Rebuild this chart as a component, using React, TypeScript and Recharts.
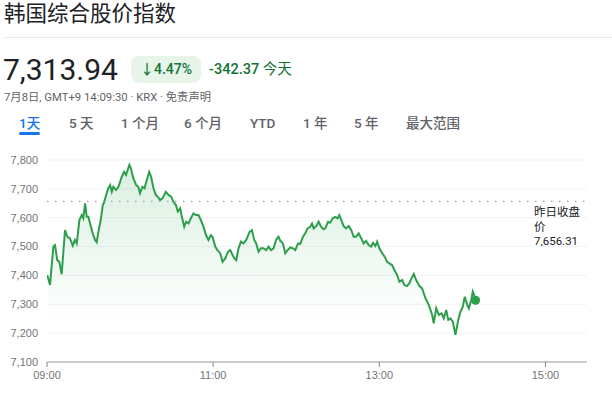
import React from "react";
import {
  ComposedChart,
  Area,
  XAxis,
  YAxis,
  CartesianGrid,
  ReferenceLine,
  ReferenceDot,
} from "recharts";

// minutes since 09:00
const times: number[] = [
  0.2, 2.2, 4.6, 5.8, 7.4, 8.9, 10.6, 13.0, 14.7, 16.6, 18.6, 20.2, 21.5, 23.4, 25.1, 26.2, 27.5, 28.7, 29.9, 31.1,
  33.0, 34.7, 35.9, 37.1, 38.8, 40.3, 41.4, 42.7, 44.3, 45.6, 46.8, 47.9, 49.9, 51.6, 54.0, 55.7, 57.1, 59.5, 60.5,
  62.4, 64.4, 66.0, 67.2, 68.9, 70.4, 72.1, 73.8, 75.2, 76.9, 78.6, 80.0, 81.7, 83.4, 85.8, 87.7, 89.7, 91.3, 93.1,
  94.5, 96.2, 97.4, 99.1, 100.5, 102.2, 103.9, 105.8, 107.5, 109.4, 111.1, 113.0, 114.8, 116.6, 118.4, 119.8, 121.5,
  123.1, 125.1, 126.8, 128.7, 130.7, 132.3, 134.0, 135.4, 136.7, 138.3, 140.1, 141.9, 143.9, 146.3, 148.0, 149.7,
  151.1, 152.8, 154.5, 156.4, 158.4, 160.0, 161.8, 163.6, 165.4, 167.2, 168.5, 170.4, 172.1, 173.8, 175.7, 177.7,
  179.3, 181.3, 182.9, 184.9, 186.5, 188.2, 190.2, 191.4, 192.6, 194.5, 196.2, 197.9, 199.8, 201.0, 203.0, 204.6,
  206.3, 208.2, 209.9, 211.1, 212.6, 214.2, 216.0, 217.9, 219.8, 221.5, 223.2, 225.1, 227.0, 228.7, 230.4, 232.3,
  234.1, 235.5, 237.2, 238.4, 240.1, 242.0, 243.9, 245.6, 247.3, 249.2, 250.9, 252.9, 254.5, 256.5, 258.1, 260.1,
  261.7, 263.2, 264.9, 266.6, 269.0, 270.9, 273.3, 275.7, 278.2, 279.3, 281.1, 283.0, 284.9, 286.6, 288.3, 289.8,
  291.4, 293.1, 295.0, 297.0, 298.6, 300.3, 301.7, 303.5, 304.7, 306.4, 307.5, 308.5, 309.5,
];

const values: number[] = [
  7401, 7367, 7500, 7505, 7453, 7447, 7404, 7557, 7534, 7528, 7503, 7523, 7511, 7592, 7609, 7598, 7650, 7603, 7603, 7580,
  7546, 7523, 7515, 7551, 7592, 7644, 7655, 7679, 7702, 7713, 7690, 7707, 7696, 7707, 7742, 7759, 7748, 7783, 7773,
  7736, 7713, 7707, 7685, 7707, 7702, 7731, 7759, 7742, 7702, 7679, 7673, 7661, 7667, 7690, 7679, 7673, 7655, 7644,
  7621, 7632, 7603, 7569, 7586, 7580, 7598, 7615, 7609, 7609, 7592, 7569, 7540, 7523, 7540, 7531, 7500,
  7488, 7477, 7447, 7459, 7482, 7488, 7471, 7459, 7453, 7494, 7517, 7511, 7523, 7551, 7557, 7523,
  7511, 7482, 7494, 7494, 7488, 7500, 7488, 7494, 7523, 7534, 7520, 7511, 7477, 7488, 7497, 7494,
  7488, 7511, 7509, 7534, 7546, 7563, 7569, 7580, 7563, 7571, 7586, 7569, 7560, 7563, 7586, 7583,
  7598, 7603, 7598, 7609, 7592, 7571, 7563, 7571, 7557, 7534, 7534, 7546, 7528, 7511, 7520, 7505,
  7500, 7513, 7502, 7517, 7494, 7477, 7465, 7447, 7442, 7436, 7419, 7401, 7378, 7384, 7367, 7363,
  7373, 7390, 7405, 7384, 7363, 7355, 7321, 7298, 7263, 7234, 7286, 7263, 7269, 7251, 7280, 7246,
  7251, 7240, 7194, 7246, 7274, 7292, 7326, 7298, 7286, 7315, 7344, 7332, 7313.94,
];

const yTicks: number[] = [7100, 7200, 7300, 7400, 7500, 7600, 7700, 7800];
const xTickMinutes: number[] = [0, 120, 240, 360];
const xTickLabels: string[] = ["09:00", "11:00", "13:00", "15:00"];
const prevClose = 7656.31;
const tabs: string[] = ["1天", "5 天", "1 个月", "6 个月", "YTD", "1 年", "5 年", "最大范围"];
const tabX: number[] = [19, 69, 121, 184, 250, 303, 354, 406];

const data = times.map((t, i) => ({ t, v: values[i] }));
const last = data[data.length - 1];

const GREEN = "#2d9f4c";
const TEXT_GREEN = "#137333";
const FONT = 'Roboto, "Noto Sans CJK SC", sans-serif';
const AXIS_FONT = '"Liberation Sans", Arial, "Noto Sans CJK SC", sans-serif';

export default function App() {
  return (
    <div
      style={{
        position: "absolute",
        left: 0,
        top: 0,
        width: 612,
        height: 394,
        background: "#fff",
        fontFamily: FONT,
        color: "#202124",
        overflow: "hidden",
      }}
    >
      <div style={{ position: "absolute", left: 4, top: 1, fontSize: 21.5, lineHeight: "26px", color: "#202124" }}>
        韩国综合股价指数
      </div>
      <div style={{ position: "absolute", left: 4, top: 37, width: 608, height: 1, background: "#e8eaed" }} />
      <div style={{ position: "absolute", left: 3, top: 52, fontSize: 30, lineHeight: "36px", color: "#202124" }}>
        7,313.94
      </div>
      <div
        style={{
          position: "absolute",
          left: 131,
          top: 56,
          width: 70,
          height: 27,
          borderRadius: 8,
          background: "#e6f4ea",
          color: TEXT_GREEN,
          fontSize: 14,
          fontWeight: 500,
          lineHeight: "27px",
          textAlign: "center",
        }}
      >
        ↓4.47%
      </div>
      <div
        style={{
          position: "absolute",
          left: 209,
          top: 60,
          fontSize: 14.5,
          lineHeight: "20px",
          color: TEXT_GREEN,
          fontWeight: 500,
          whiteSpace: "nowrap",
        }}
      >
        -342.37 <span style={{ fontWeight: 400 }}>今天</span>
      </div>
      <div
        style={{
          position: "absolute",
          left: 4,
          top: 90,
          fontSize: 11.3,
          lineHeight: "16px",
          color: "#5f6368",
          whiteSpace: "nowrap",
        }}
      >
        7月8日, GMT+9 14:09:30 · KRX · 免责声明
      </div>
      {tabs.map((label, i) => (
        <div
          key={label}
          style={{
            position: "absolute",
            left: tabX[i],
            top: 114,
            fontSize: 13.5,
            lineHeight: "18px",
            fontWeight: 500,
            color: i === 0 ? "#1a73e8" : "#5f6368",
            whiteSpace: "nowrap",
          }}
        >
          {label}
        </div>
      ))}
      <div
        style={{
          position: "absolute",
          left: 19,
          top: 132,
          width: 21,
          height: 3,
          borderRadius: 2,
          background: "#1a73e8",
        }}
      />
      <div
        style={{
          position: "absolute",
          left: 534,
          top: 205,
          fontSize: 11.5,
          lineHeight: "14.5px",
          color: "#202124",
          width: 60,
        }}
      >
        昨日收盘
        <br />价<br />
        7,656.31
      </div>
      <div style={{ position: "absolute", left: 0, top: 140 }}>
        <ComposedChart
          width={612}
          height={254}
          data={data}
          margin={{ top: 20, right: 25, bottom: 2, left: 0 }}
        >
          <defs>
            <linearGradient id="areaGrad" x1="0" y1="0" x2="0" y2="1">
              <stop offset="0%" stopColor="#34a853" stopOpacity={0.3} />
              <stop offset="80%" stopColor="#34a853" stopOpacity={0} />
            </linearGradient>
          </defs>
          <CartesianGrid horizontal vertical={false} stroke="#f1f3f4" />
          <XAxis
            type="number"
            dataKey="t"
            domain={[0, 390]}
            ticks={xTickMinutes}
            tickFormatter={(m: number) => xTickLabels[xTickMinutes.indexOf(m)]}
            axisLine={{ stroke: "#9aa0a6" }}
            tickLine={{ stroke: "#80868b" }}
            tickSize={5}
            tickMargin={4}
            height={30}
            tick={{ fontSize: 11, fill: "#70757a", fontFamily: AXIS_FONT }}
            allowDataOverflow
          />
          <YAxis
            type="number"
            domain={[7100, 7800]}
            ticks={yTicks}
            tickFormatter={(v: number) => v.toLocaleString("en-US")}
            axisLine={false}
            tickLine={false}
            tickMargin={3}
            width={47}
            tick={{ fontSize: 11, fill: "#70757a", fontFamily: AXIS_FONT }}
            allowDataOverflow
          />
          <ReferenceLine y={prevClose} stroke="#9aa0a6" strokeDasharray="1.5 6.5" strokeWidth={1.2} />
          <Area
            type="linear"
            dataKey="v"
            stroke={GREEN}
            strokeWidth={2}
            fill="url(#areaGrad)"
            isAnimationActive={false}
            dot={false}
            activeDot={false}
          />
          <ReferenceDot x={last.t} y={last.v} r={4.5} fill={GREEN} stroke="none" />
        </ComposedChart>
      </div>
    </div>
  );
}
